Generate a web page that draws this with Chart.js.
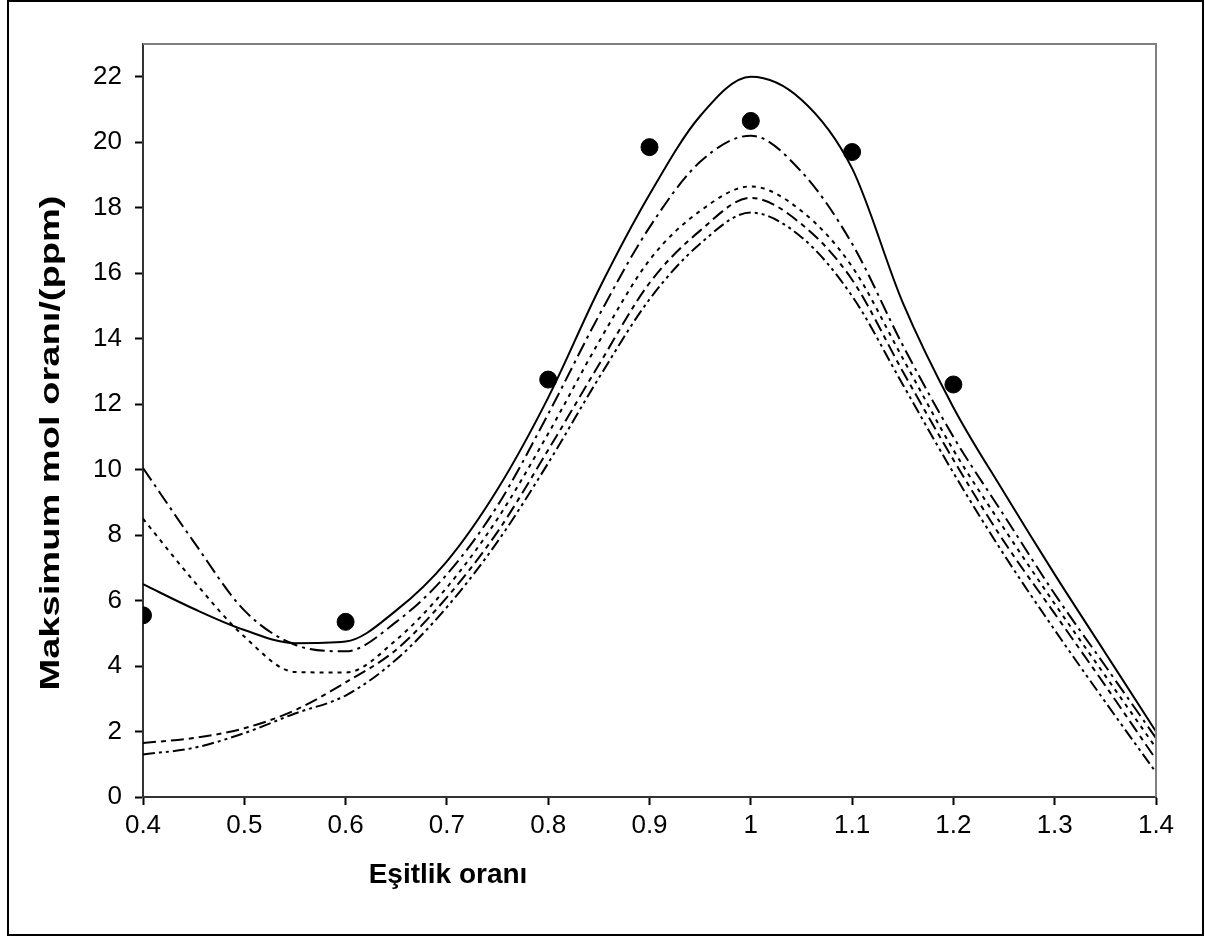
<!DOCTYPE html>
<html>
<head>
<meta charset="utf-8">
<script src="https://cdn.jsdelivr.net/npm/chart.js@4.4.1/dist/chart.umd.min.js"></script>
<style>
  html, body { margin: 0; padding: 0; background: #fff; }
  #wrap { width: 1205px; height: 937px; }
</style>
</head>
<body>
<div id="wrap"><canvas id="nChart" width="1205" height="937"></canvas></div>
<script>
// equivalence ratio grid used by the computed curves
const phi = [0.4, 0.45, 0.5, 0.55, 0.6, 0.65, 0.7, 0.75, 0.8, 0.85, 0.9, 0.95, 1.0, 1.05, 1.1, 1.15, 1.2, 1.25, 1.3, 1.35, 1.4];

// computed peak mole fractions (ppm), one array per mechanism
const mech1 = [6.5, 5.75, 5.1, 4.7, 4.75, 5.7, 7.2, 9.4, 12.2, 15.5, 18.4, 20.8, 22.0, 21.3, 19.2, 15.1, 11.9, 9.3, 6.8, 4.4, 2.0];
const mech2 = [10.05, 7.8, 5.7, 4.65, 4.45, 5.35, 6.8, 8.9, 11.7, 14.7, 17.4, 19.4, 20.2, 19.1, 16.9, 13.8, 11.0, 8.6, 6.2, 4.0, 1.8];
const mech3 = [8.5, 6.6, 4.9, 3.82, 3.8, 4.8, 6.4, 8.5, 11.1, 13.9, 16.4, 17.9, 18.65, 17.9, 16.2, 13.4, 10.6, 8.2, 5.9, 3.7, 1.5];
const mech4 = [1.65, 1.8, 2.1, 2.65, 3.5, 4.5, 6.1, 8.1, 10.6, 13.2, 15.7, 17.3, 18.3, 17.5, 15.8, 13.0, 10.3, 7.8, 5.6, 3.4, 1.15];
const mech5 = [1.3, 1.5, 1.95, 2.55, 3.1, 4.2, 5.8, 7.8, 10.2, 12.8, 15.2, 16.9, 17.85, 17.1, 15.3, 12.6, 9.9, 7.4, 5.1, 2.9, 0.75];

// measured values
const expPhi = [0.4, 0.6, 0.8, 0.9, 1.0, 1.1, 1.2];
const expVal = [5.55, 5.35, 12.75, 19.85, 20.65, 19.7, 12.6];

const yTicks = [0, 2, 4, 6, 8, 10, 12, 14, 16, 18, 20, 22];

const xy = (xs, ys) => xs.map((x, i) => ({ x: x, y: ys[i] }));

function curve(label, ys, dash) {
  return {
    type: 'line',
    label: label,
    data: xy(phi, ys),
    borderColor: '#000',
    borderWidth: 2,
    borderDash: dash,
    pointRadius: 0,
    fill: false,
    cubicInterpolationMode: 'monotone'
  };
}

// outer frame, plot box and axis titles
const decor = {
  id: 'decor',
  beforeDraw(chart) {
    const ctx = chart.ctx;
    ctx.save();
    ctx.fillStyle = '#fff';
    ctx.fillRect(0, 0, chart.width, chart.height);
    ctx.strokeStyle = '#000';
    ctx.lineWidth = 2;
    ctx.strokeRect(8, 1, 1195, 934);
    ctx.restore();
  },
  afterDraw(chart) {
    const ctx = chart.ctx;
    const a = chart.chartArea;
    ctx.save();
    ctx.strokeStyle = '#808080';
    ctx.lineWidth = 2;
    ctx.beginPath();
    ctx.moveTo(a.left, a.top);
    ctx.lineTo(a.right, a.top);
    ctx.lineTo(a.right, a.bottom);
    ctx.stroke();
    ctx.fillStyle = '#000';
    ctx.font = 'bold 28px "Liberation Sans", Arial, sans-serif';
    ctx.textAlign = 'center';
    ctx.textBaseline = 'middle';
    ctx.fillText('Eşitlik oranı', 448, 875);
    // the vertical title is drawn stretched along its length
    ctx.translate(51, 443);
    ctx.rotate(-Math.PI / 2);
    ctx.scale(1.36, 1);
    ctx.fillText('Maksimum mol oranı/(ppm)', 0, 0);
    ctx.restore();
  }
};

new Chart(document.getElementById('nChart'), {
  data: {
    datasets: [
      {
        type: 'scatter',
        label: 'Deney',
        data: xy(expPhi, expVal),
        pointRadius: 8.5,
        pointBackgroundColor: '#000',
        pointBorderColor: '#000',
        showLine: false
      },
      curve('Mekanizma 1', mech1, []),
      curve('Mekanizma 2', mech2, [15, 5, 3, 5]),
      curve('Mekanizma 3', mech3, [4, 5]),
      curve('Mekanizma 4', mech4, [13, 5, 5, 5]),
      curve('Mekanizma 5', mech5, [12, 4, 3, 4, 3, 4])
    ]
  },
  plugins: [decor],
  options: {
    responsive: false,
    animation: false,
    layout: { padding: { top: 44, right: 49, left: 0, bottom: 0 } },
    scales: {
      x: {
        type: 'linear',
        min: 0.4,
        max: 1.4,
        ticks: {
          stepSize: 0.1,
          color: '#000',
          padding: 5,
          font: { family: '"Liberation Sans", Arial, sans-serif', size: 26 },
          callback: v => String(Number(v.toFixed(1)))
        },
        grid: { drawOnChartArea: false, drawTicks: true, tickLength: 8, tickColor: '#000', tickWidth: 2 },
        border: { display: true, color: '#333', width: 2 },
        afterFit: s => { s.height = 140; }
      },
      y: {
        type: 'linear',
        min: 0,
        max: 23,
        afterBuildTicks: s => { s.ticks = yTicks.map(v => ({ value: v })); },
        ticks: {
          color: '#000',
          padding: 13,
          font: { family: '"Liberation Sans", Arial, sans-serif', size: 26 }
        },
        grid: { drawOnChartArea: false, drawTicks: true, tickLength: 8, tickColor: '#000', tickWidth: 2 },
        border: { display: true, color: '#333', width: 2 },
        afterFit: s => { s.width = 143; }
      }
    },
    plugins: {
      legend: { display: false },
      tooltip: { enabled: false }
    }
  }
});
</script>
</body>
</html>
